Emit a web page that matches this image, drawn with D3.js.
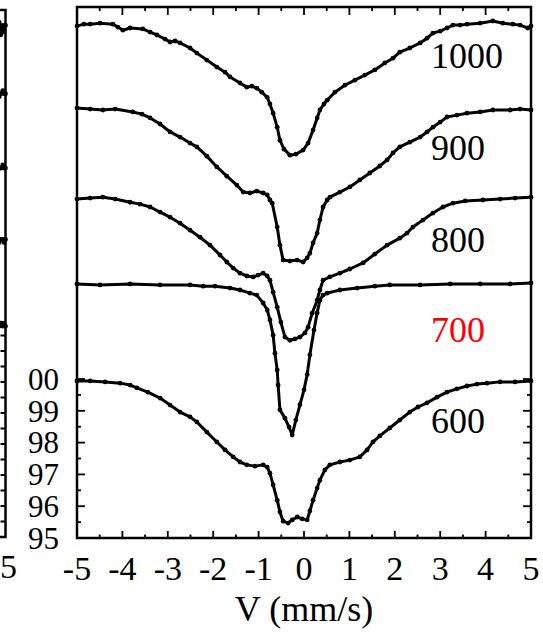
<!DOCTYPE html>
<html>
<head>
<meta charset="utf-8">
<script src="https://cdn.jsdelivr.net/npm/d3@7"></script>
<style>
  html, body { margin: 0; padding: 0; background: #fff; }
  svg { display: block; }
</style>
</head>
<body>
<svg id="chart" width="543" height="633"></svg>
<script>
// ---- data -------------------------------------------------------------
// Annealing temperatures (one Mössbauer spectrum each), top to bottom
const temperatures = ["1000", "900", "800", "700", "600"];
// vertical shift of each spectrum on the transmission axis (%)
const offsets = [11.15, 8.5, 5.7, 3.0, 0];
const labelColors = ["#000000", "#000000", "#000000", "#ff0000", "#000000"];

// [velocity (mm/s), relative transmission (%)]
const spec1000 = [[-5.00,99.95],[-4.85,100.01],[-4.71,100.01],[-4.49,100.04],[-4.21,100.01],[-4.10,99.92],[-3.99,99.82],[-3.83,99.89],[-3.55,99.86],[-3.39,99.76],[-3.24,99.67],[-3.06,99.54],[-2.95,99.45],[-2.84,99.48],[-2.73,99.42],[-2.51,99.26],[-2.36,99.10],[-2.14,98.88],[-1.92,98.66],[-1.74,98.50],[-1.63,98.35],[-1.41,98.16],[-1.26,98.03],[-1.15,98.06],[-1.04,98.00],[-0.93,97.87],[-0.81,97.71],[-0.75,97.50],[-0.68,97.21],[-0.59,96.77],[-0.53,96.36],[-0.44,96.08],[-0.31,95.89],[-0.18,95.92],[-0.02,96.05],[0.09,96.27],[0.20,96.68],[0.29,97.06],[0.35,97.31],[0.44,97.50],[0.51,97.62],[0.68,97.87],[0.90,98.09],[1.12,98.25],[1.34,98.41],[1.56,98.57],[1.78,98.79],[1.96,98.94],[2.11,99.13],[2.33,99.26],[2.56,99.42],[2.71,99.57],[2.84,99.73],[3.00,99.79],[3.15,99.89],[3.28,99.98],[3.44,99.98],[3.59,100.01],[3.88,100.04],[4.16,100.11],[4.38,100.04],[4.60,100.01],[4.76,99.98],[4.93,99.89],[5.00,99.95]];

const spec900 = [[-5.00,100.02],[-4.71,99.99],[-4.43,99.96],[-4.16,99.99],[-3.77,99.90],[-3.57,99.83],[-3.39,99.71],[-3.17,99.52],[-2.95,99.27],[-2.73,99.11],[-2.51,98.92],[-2.36,98.80],[-2.14,98.51],[-1.92,98.17],[-1.70,97.88],[-1.48,97.60],[-1.34,97.38],[-1.19,97.35],[-1.04,97.41],[-0.90,97.35],[-0.81,97.29],[-0.75,97.13],[-0.70,97.03],[-0.59,96.28],[-0.53,95.71],[-0.46,95.24],[-0.31,95.21],[-0.15,95.24],[-0.02,95.18],[0.07,95.31],[0.13,95.46],[0.20,95.78],[0.29,96.09],[0.35,96.50],[0.42,96.91],[0.51,97.13],[0.57,97.22],[0.79,97.38],[1.01,97.54],[1.23,97.76],[1.45,97.98],[1.67,98.20],[1.83,98.39],[1.96,98.61],[2.11,98.80],[2.33,98.95],[2.56,99.11],[2.71,99.27],[2.84,99.42],[3.00,99.58],[3.15,99.74],[3.37,99.80],[3.59,99.86],[3.88,99.90],[4.16,99.96],[4.54,99.96],[4.76,99.99],[5.00,99.96]];

const spec800 = [[-5.00,99.96],[-4.71,99.99],[-4.43,100.02],[-4.16,99.96],[-3.83,99.86],[-3.61,99.80],[-3.39,99.71],[-3.17,99.55],[-2.95,99.39],[-2.73,99.20],[-2.51,98.98],[-2.29,98.76],[-2.07,98.51],[-1.85,98.20],[-1.70,97.98],[-1.56,97.79],[-1.41,97.63],[-1.26,97.54],[-1.12,97.51],[-1.01,97.57],[-0.90,97.63],[-0.81,97.54],[-0.75,97.41],[-0.68,97.03],[-0.59,96.56],[-0.51,96.09],[-0.42,95.62],[-0.31,95.52],[-0.20,95.56],[-0.09,95.62],[0.02,95.75],[0.09,95.93],[0.18,96.37],[0.29,96.78],[0.35,97.10],[0.42,97.41],[0.57,97.51],[0.79,97.63],[1.01,97.76],[1.30,97.95],[1.56,98.23],[1.83,98.51],[2.11,98.73],[2.27,98.89],[2.40,99.08],[2.62,99.30],[2.84,99.52],[3.06,99.71],[3.28,99.83],[3.55,99.90],[3.94,99.93],[4.32,99.96],[4.65,99.99],[5.00,100.02]];

const spec700 = [[-5.00,99.99],[-4.49,99.96],[-3.83,99.99],[-3.17,99.96],[-2.51,99.96],[-2.22,99.92],[-1.96,99.92],[-1.63,99.86],[-1.41,99.80],[-1.19,99.70],[-1.04,99.64],[-0.90,99.39],[-0.81,99.17],[-0.75,98.86],[-0.68,98.38],[-0.64,97.81],[-0.59,97.28],[-0.57,96.81],[-0.53,96.03],[-0.42,95.77],[-0.33,95.49],[-0.26,95.24],[-0.18,95.71],[-0.09,96.19],[0.00,96.66],[0.07,97.14],[0.13,97.76],[0.22,98.54],[0.29,99.08],[0.35,99.48],[0.42,99.64],[0.51,99.70],[0.79,99.80],[1.17,99.86],[1.56,99.92],[1.89,99.96],[2.56,99.96],[3.22,99.99],[3.88,99.99],[4.54,99.99],[5.00,100.02]];

const spec600 = [[-5.00,99.94],[-4.71,99.94],[-4.38,99.91],[-4.05,99.87],[-3.83,99.81],[-3.68,99.72],[-3.44,99.59],[-3.17,99.40],[-2.95,99.18],[-2.73,98.96],[-2.51,98.81],[-2.36,98.65],[-2.14,98.33],[-1.92,98.02],[-1.74,97.77],[-1.56,97.55],[-1.41,97.39],[-1.26,97.30],[-1.08,97.26],[-0.90,97.30],[-0.81,97.23],[-0.75,97.04],[-0.68,96.67],[-0.59,96.19],[-0.53,95.82],[-0.46,95.53],[-0.35,95.47],[-0.26,95.57],[-0.15,95.66],[-0.04,95.60],[0.07,95.57],[0.13,95.85],[0.20,96.19],[0.29,96.57],[0.35,96.82],[0.46,97.14],[0.57,97.30],[0.79,97.39],[1.01,97.45],[1.23,97.55],[1.39,97.77],[1.52,98.02],[1.67,98.21],[1.89,98.46],[2.11,98.71],[2.33,98.96],[2.51,99.12],[2.71,99.25],[2.93,99.43],[3.15,99.59],[3.37,99.69],[3.59,99.78],[3.81,99.84],[4.03,99.87],[4.32,99.91],[4.65,99.91],[5.00,99.94]];

const spectra = [spec1000, spec900, spec800, spec700, spec600];

// axis ticks
const xTickValues = [-5, -4, -3, -2, -1, 0, 1, 2, 3, 4, 5];
const xTickLabels = ["-5", "-4", "-3", "-2", "-1", "0", "1", "2", "3", "4", "5"];
const yTickValues = [95, 96, 97, 98, 99, 100];
const yTickLabels = ["95", "96", "97", "98", "99", "100"];
const xAxisTitle = "V (mm/s)";

// neighbouring panel: only the high-velocity end of its five spectra is on the page
const prevSpecEnds = [
  [[4.86,110.6],[4.90,110.2],[4.94,110.5],[4.97,110.3],[5.00,110.5]],
  [[4.86,108.2],[4.90,108.3],[4.94,108.4],[4.97,108.3],[5.00,108.3]],
  [[4.86,105.9],[4.90,105.9],[4.94,106.0],[4.97,105.9],[5.00,105.9]],
  [[4.86,103.5],[4.90,103.6],[4.94,103.6],[4.97,103.5],[5.00,103.6]],
  [[4.86,100.8],[4.90,100.9],[4.94,100.8],[4.97,100.9],[5.00,100.8]]
];
const prevYTickValues = [94.5, 95, 95.5, 96, 96.5, 97, 97.5, 98, 98.5, 99, 99.5, 100, 100.5];
const prevXTickLabel = "5";

// ---- drawing ----------------------------------------------------------
const svg = d3.select("#chart");
const serif = "Liberation Serif";

const frame = { left: 77, right: 531, top: 7, bottom: 538 };
const x = d3.scaleLinear().domain([-5, 5]).range([frame.left, frame.right]);
const y = d3.scaleLinear().domain([95, 111.7]).range([frame.bottom, frame.top]);

// neighbouring panel scales (same width, placed to the left)
const xP = d3.scaleLinear().domain([-5, 5]).range([5.5 - 454, 5.5]);
const yP = d3.scaleLinear().domain([94, 111]).range([537, 10]);

function drawSpectrum(g, data, sx, sy, off) {
  const line = d3.line().x(d => sx(d[0])).y(d => sy(d[1] + off));
  g.append("path")
    .datum(data)
    .attr("d", line)
    .attr("fill", "none")
    .attr("stroke", "#000")
    .attr("stroke-width", 3)
    .attr("stroke-linejoin", "round")
    .attr("stroke-linecap", "round");
  g.selectAll(null)
    .data(data)
    .enter().append("circle")
    .attr("cx", d => sx(d[0]))
    .attr("cy", d => sy(d[1] + off))
    .attr("r", 2.4)
    .attr("fill", "#000");
}

// neighbouring panel
const gp = svg.append("g");
prevSpecEnds.forEach(s => drawSpectrum(gp, s, xP, yP, 0));
gp.append("rect")
  .attr("x", xP(-5)).attr("y", yP.range()[1])
  .attr("width", xP(5) - xP(-5)).attr("height", yP.range()[0] - yP.range()[1])
  .attr("fill", "none").attr("stroke", "#000").attr("stroke-width", 2.5);
gp.selectAll(null).data(prevYTickValues).enter().append("line")
  .attr("x1", xP(5)).attr("x2", xP(5) - 5)
  .attr("y1", d => yP(d)).attr("y2", d => yP(d))
  .attr("stroke", "#000").attr("stroke-width", 2);
gp.append("text")
  .attr("x", 0).attr("y", 578)
  .attr("text-anchor", "start")
  .attr("font-family", serif).attr("font-size", 34)
  .text(prevXTickLabel);

// main panel spectra
const gs = svg.append("g");
spectra.forEach((s, i) => drawSpectrum(gs, s, x, y, offsets[i]));

// temperature labels
const labelAnchors = [109.78, 106.89, 103.99, 101.16, 98.30];
svg.selectAll(null).data(temperatures).enter().append("text")
  .attr("x", x(2.8))
  .attr("y", (d, i) => y(labelAnchors[i]))
  .attr("font-family", serif).attr("font-size", 36)
  .attr("fill", (d, i) => labelColors[i])
  .text(d => d);

// frame
svg.append("rect")
  .attr("x", frame.left).attr("y", frame.top)
  .attr("width", frame.right - frame.left).attr("height", frame.bottom - frame.top)
  .attr("fill", "none").attr("stroke", "#000").attr("stroke-width", 2.5);

// ticks: integers are long, half-steps short
const xHalf = d3.range(-4.5, 5, 0.5);
const isInt = v => Math.abs(v - Math.round(v)) < 1e-6;
const gt = svg.append("g").attr("stroke", "#000").attr("stroke-width", 1.8);
gt.selectAll(null).data(xHalf).enter().append("line")
  .attr("x1", d => x(d)).attr("x2", d => x(d))
  .attr("y1", frame.bottom).attr("y2", d => frame.bottom - (isInt(d) ? 7 : 3.5));
gt.selectAll(null).data(xHalf).enter().append("line")
  .attr("x1", d => x(d)).attr("x2", d => x(d))
  .attr("y1", frame.top).attr("y2", d => frame.top + (isInt(d) ? 8 : 4));
const yHalf = d3.range(95.5, 100.01, 0.5);
gt.selectAll(null).data(yHalf).enter().append("line")
  .attr("x1", frame.left).attr("x2", d => frame.left + (isInt(d) ? 8 : 4))
  .attr("y1", d => y(d)).attr("y2", d => y(d));
gt.selectAll(null).data(yHalf).enter().append("line")
  .attr("x1", frame.right).attr("x2", d => frame.right - (isInt(d) ? 8 : 4))
  .attr("y1", d => y(d)).attr("y2", d => y(d));

// tick labels
svg.selectAll(null).data(xTickValues).enter().append("text")
  .attr("x", d => x(d)).attr("y", 580)
  .attr("text-anchor", "middle")
  .attr("font-family", serif).attr("font-size", 34)
  .text((d, i) => xTickLabels[i]);

svg.append("clipPath").attr("id", "ylab-clip")
  .append("rect").attr("x", 26).attr("y", 0).attr("width", 60).attr("height", 633);
svg.append("g").attr("clip-path", "url(#ylab-clip)")
  .selectAll(null).data(yTickValues).enter().append("text")
  .attr("x", 59).attr("y", d => y(d))
  .attr("dy", "0.35em")
  .attr("text-anchor", "end")
  .attr("font-family", serif).attr("font-size", 31)
  .text((d, i) => yTickLabels[i]);

// axis title
svg.append("text")
  .attr("x", (frame.left + frame.right) / 2).attr("y", 621)
  .attr("text-anchor", "middle")
  .attr("font-family", serif).attr("font-size", 36)
  .text(xAxisTitle);
</script>
</body>
</html>
